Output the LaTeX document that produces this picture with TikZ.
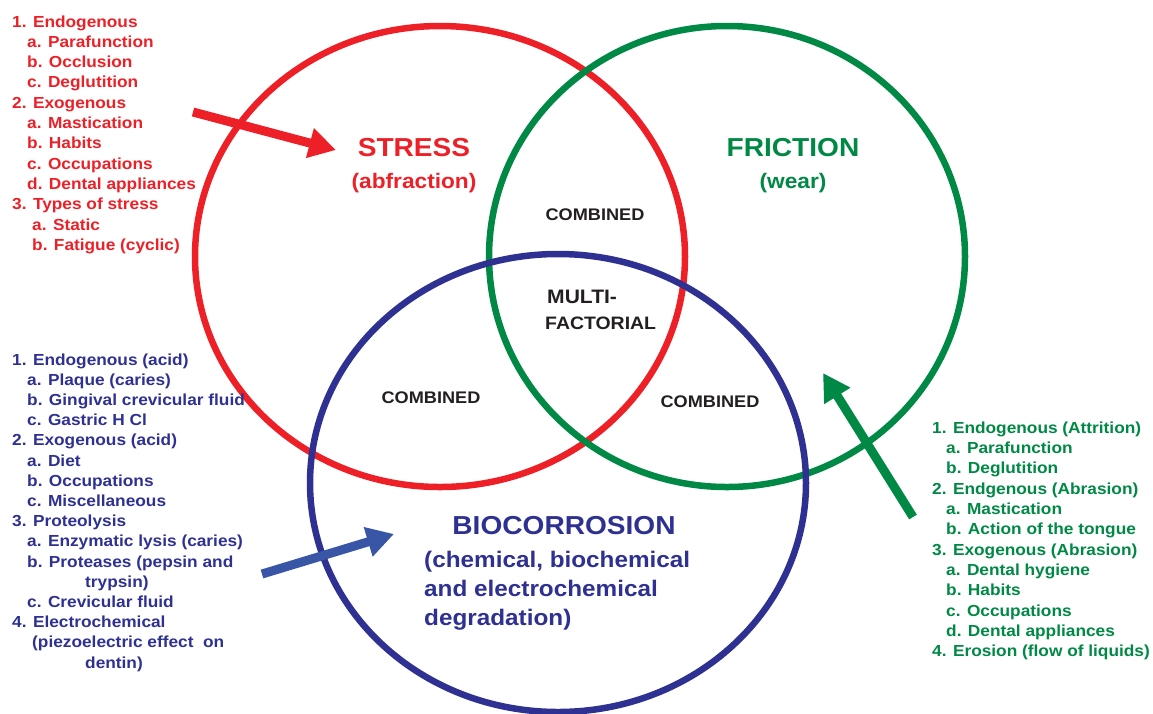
\documentclass[tikz,border=0pt]{standalone}
\usepackage{fontspec}
\usepackage{graphicx}
\setmainfont{Liberation Sans}
\usetikzlibrary{arrows.meta,shapes.geometric}
\definecolor{cred}{RGB}{237,32,39}
\definecolor{cgreen}{RGB}{0,137,68}
\definecolor{cblue}{RGB}{46,49,146}
\definecolor{carrowblue}{RGB}{57,86,166}
\definecolor{ctxt}{RGB}{35,31,32}
\newcommand\wide[1]{\scalebox{1.08}[1]{#1}}
\begin{document}
\begin{tikzpicture}[x=1pt,y=-1pt,
  ring/.style={ellipse, draw, line width=6.5pt, inner sep=0pt},
  lst/.style={anchor=base west, inner sep=0pt, font=\fontsize{16}{19}\selectfont\bfseries},
  bigt/.style={anchor=base, inner sep=0pt, font=\fontsize{26}{30}\selectfont\bfseries},
  subt/.style={anchor=base, inner sep=0pt, font=\fontsize{21}{25}\selectfont\bfseries},
  comb/.style={anchor=base, inner sep=0pt, text=ctxt, font=\fontsize{16.8}{20}\selectfont\bfseries},
  multi/.style={anchor=base west, inner sep=0pt, text=ctxt, font=\fontsize{18}{22}\selectfont\bfseries},
  bio/.style={anchor=base west, inner sep=0pt, text=cblue, font=\fontsize{22.5}{27}\selectfont\bfseries},
  fat/.style={line width=9pt, -{Triangle[length=27pt,width=29pt]}}
]
\useasboundingbox (0,0) rectangle (1153,713);

% circles
\node[ring, draw=cred, minimum width=490pt, minimum height=461pt] (stress) at (440,256.5) {};
\node[ring, draw=cgreen, minimum width=476pt, minimum height=461pt] (friction) at (727,256.5) {};
\node[ring, draw=cblue, minimum width=496pt, minimum height=458pt] (bio) at (558,483) {};

% titles
\node[bigt, text=cred] (tstress) at (414,156.5) {\wide{STRESS}};
\node[subt, text=cred] (tabf) at (414,188) {\wide{(abfraction)}};
\node[bigt, text=cgreen] (tfric) at (793,156.5) {\wide{FRICTION}};
\node[subt, text=cgreen] (twear) at (793,188) {\wide{(wear)}};
\node[comb] (c1) at (595,220) {\wide{COMBINED}};
\node[multi] (m1) at (547,303) {\wide{\fontsize{19.5}{22}\selectfont MULTI-}};
\node[multi] (m2) at (545,329) {\wide{FACTORIAL}};
\node[comb] (c2) at (431,403) {\wide{COMBINED}};
\node[comb] (c3) at (710,407) {\wide{COMBINED}};
\node[bigt, text=cblue] (tbio) at (564,534) {\wide{BIOCORROSION}};
\node[bio] (b1) at (424,567) {\wide{(chemical, biochemical}};
\node[bio] (b2) at (424,596) {\wide{and electrochemical}};
\node[bio] (b3) at (424,625) {\wide{degradation)}};

% red list
\foreach \dx/\t [count=\i] in {0/{1. Endogenous},15/{a. Parafunction},15/{b. Occlusion},15/{c. Deglutition},0/{2. Exogenous},15/{a. Mastication},15/{b. Habits},15/{c. Occupations},15/{d. Dental appliances},0/{3. Types of stress},20/{a. Static},20/{b. Fatigue (cyclic)}}
  \node[lst, text=cred, name=r\i] at (12+\dx, 27+\i*20.3-20.3) {\wide{\t}};

% blue list
\foreach \dx/\t [count=\i] in {0/{1. Endogenous (acid)},15/{a. Plaque (caries)},15/{b. Gingival crevicular fluid},15/{c. Gastric H Cl},0/{2. Exogenous (acid)},15/{a. Diet},15/{b. Occupations},15/{c. Miscellaneous},0/{3. Proteolysis},15/{a. Enzymatic lysis (caries)},15/{b. Proteases (pepsin and},73/{trypsin)},15/{c. Crevicular fluid},0/{4. Electrochemical},20/{(piezoelectric effect\ \ on},73/{dentin)}}
  \node[lst, text=cblue, name=bl\i] at (12+\dx, 365+\i*20.2-20.2) {\wide{\t}};

% green list
\foreach \dx/\t [count=\i] in {0/{1. Endogenous (Attrition)},14/{a. Parafunction},14/{b. Deglutition},0/{2. Endgenous (Abrasion)},14/{a. Mastication},14/{b. Action of the tongue},0/{3. Exogenous (Abrasion)},14/{a. Dental hygiene},14/{b. Habits},14/{c. Occupations},14/{d. Dental appliances},0/{4. Erosion (flow of liquids)}}
  \node[lst, text=cgreen, name=g\i] at (932+\dx, 433+\i*20.36-20.36) {\wide{\t}};

% arrows
\coordinate (ra) at (193,112);
\coordinate (rb) at (336,150);
\coordinate (ba) at (262,574);
\coordinate (bb) at (394,534);
\coordinate (ga) at (913,517);
\coordinate (gb) at (823,373);
\draw[fat, draw=cred, fill=cred] (ra) -- (rb);
\draw[fat, draw=carrowblue, fill=carrowblue] (ba) -- (bb);
\draw[fat, draw=cgreen, fill=cgreen] (ga) -- (gb);
\end{tikzpicture}
\end{document}
